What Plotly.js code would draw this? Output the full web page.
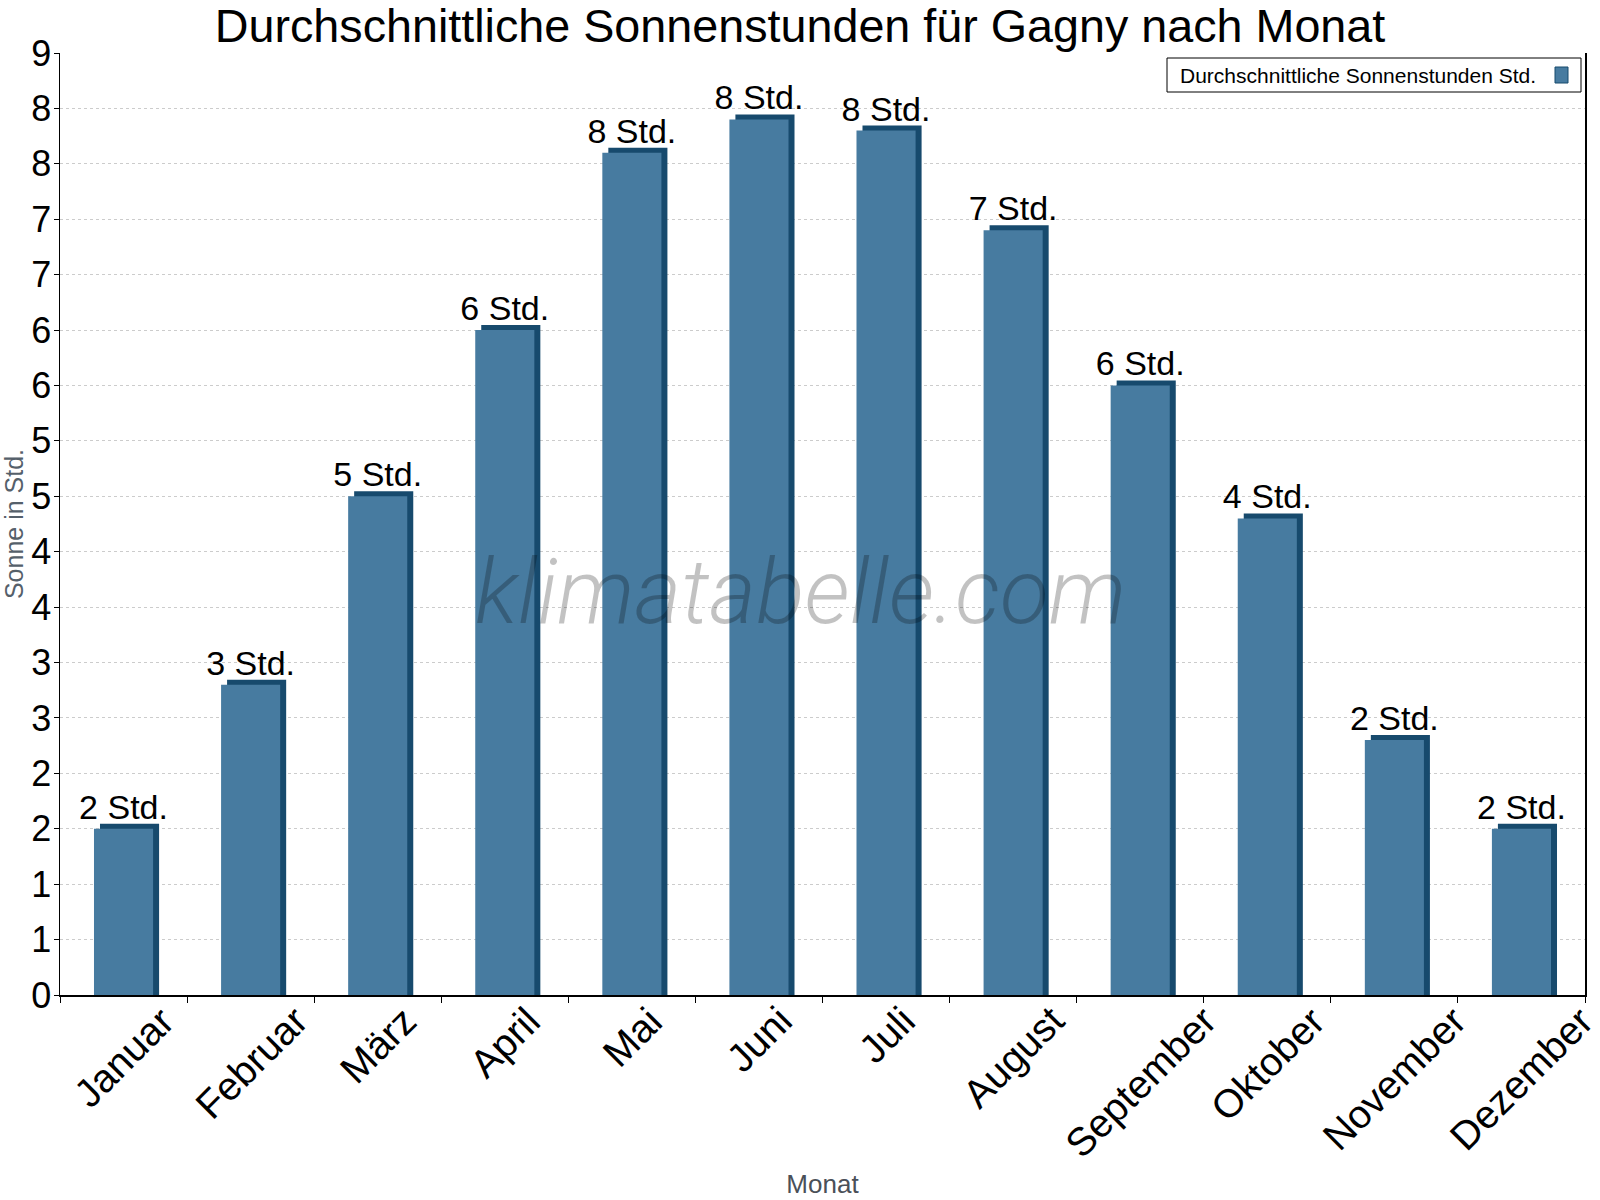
<!DOCTYPE html>
<html>
<head>
<meta charset="utf-8">
<script src="https://cdn.plot.ly/plotly-3.0.1.min.js"></script>
<style>
  html, body { margin: 0; padding: 0; background: #fff; }
  #chart { width: 1600px; height: 1200px; }
</style>
</head>
<body>
<div id="chart"></div>
<script>
// Monthly average sunshine hours for Gagny
const months = ['Januar', 'Februar', 'März', 'April', 'Mai', 'Juni',
                'Juli', 'August', 'September', 'Oktober', 'November', 'Dezember'];
const sunHours = [1.5, 2.8, 4.5, 6.0, 7.6, 7.9, 7.8, 6.9, 5.5, 4.3, 2.3, 1.5];
const seriesName = 'Durchschnittliche Sonnenstunden Std.';
const unitSuffix = ' Std.';

const yTickVals = [0, 0.5, 1, 1.5, 2, 2.5, 3, 3.5, 4, 4.5, 5, 5.5, 6, 6.5, 7, 7.5, 8, 8.5];
const yTickText = ['0', '1', '1', '2', '2', '3', '3', '4', '4', '5', '5', '6', '6', '7', '7', '8', '8', '9'];

const chartTitle = 'Durchschnittliche Sonnenstunden für Gagny nach Monat';
const xTitle = 'Monat';
const yTitle = 'Sonne in Std.';
const watermark = 'klimatabelle.com';

// ---- geometry & style ----
const W = 1600, H = 1200;
const M = { l: 60, r: 15, t: 53, b: 205 };
const plotW = W - M.l - M.r;
const plotH = H - M.t - M.b;
const yMax = 8.5;
const pxX = px => (px - M.l) / plotW;          // page px -> paper x
const pxY = py => (H - M.b - py) / plotH;      // page px -> paper y

const FRONT = '#477ba0';
const SIDE = '#174a6d';
const FONT = 'Liberation Sans, Arial, Helvetica, sans-serif';
const BAR_W = 0.465;                              // fraction of a category
const DEPTH_X = 6 / (plotW / months.length);      // 3D depth, category units
const DEPTH_Y = 5 / (plotH / yMax);               // 3D depth, value units

const labels = sunHours.map(v => Math.round(v) + unitSuffix);

// dark back block gives the bevelled side and top faces
const sideTrace = {
  type: 'bar',
  x: months,
  y: sunHours.map(v => v + DEPTH_Y),
  width: BAR_W,
  offset: -BAR_W / 2 + DEPTH_X,
  marker: { color: SIDE, line: { width: 0 } },
  showlegend: false,
  hoverinfo: 'skip'
};

const frontTrace = {
  type: 'bar',
  name: seriesName,
  x: months,
  y: sunHours,
  width: BAR_W,
  offset: -BAR_W / 2,
  marker: { color: FRONT, line: { width: 0 } },
  text: labels,
  textposition: 'outside',
  textfont: { family: FONT, size: 34, color: '#000' },
  constraintext: 'none',
  cliponaxis: false,
  showlegend: false
};

// rotated month labels centred under each category
const monthLabels = months.map(m => ({
  x: m, xref: 'x',
  y: pxY(997), yref: 'paper',
  text: m,
  textangle: -45,
  xanchor: 'center', yanchor: 'top',
  borderpad: 0,
  showarrow: false,
  font: { family: FONT, size: 39.5, color: '#000' }
}));

const annotations = monthLabels.concat([
  {
    text: watermark,
    xref: 'paper', yref: 'paper',
    x: pxX(800), y: pxY(592),
    xanchor: 'center', yanchor: 'middle',
    showarrow: false,
    font: { family: 'Roboto, Liberation Sans, sans-serif', size: 90, weight: 300,
            style: 'italic', color: 'rgba(0,0,0,0.24)' }
  },
  {
    text: seriesName,
    xref: 'paper', yref: 'paper',
    x: pxX(1178), y: pxY(75),
    xanchor: 'left', yanchor: 'middle',
    showarrow: false,
    font: { family: FONT, size: 21, color: '#000' }
  }
]);

const shapes = [
  { // legend frame
    type: 'rect', xref: 'paper', yref: 'paper',
    x0: pxX(1167), x1: pxX(1581), y0: pxY(92), y1: pxY(58),
    line: { color: '#000', width: 1 }, fillcolor: '#fff', layer: 'above'
  },
  { // legend swatch
    type: 'rect', xref: 'paper', yref: 'paper',
    x0: pxX(1555), x1: pxX(1568), y0: pxY(83), y1: pxY(67),
    line: { color: SIDE, width: 1 }, fillcolor: FRONT, layer: 'above'
  }
];

const layout = {
  width: W, height: H,
  margin: M,
  paper_bgcolor: '#fff',
  plot_bgcolor: '#fff',
  barmode: 'overlay',
  showlegend: false,
  font: { family: FONT, color: '#000' },
  title: {
    text: chartTitle,
    font: { family: FONT, size: 46.7, color: '#000' },
    x: 0.5, xanchor: 'center',
    y: 1 - 25.5 / H, yanchor: 'middle'
  },
  xaxis: {
    type: 'category',
    range: [-0.5, months.length - 0.5],
    showline: true, linecolor: '#000', linewidth: 1.5,
    ticks: 'outside', ticklen: 6, tickcolor: '#000', tickwidth: 1,
    tickson: 'boundaries',
    showticklabels: false,
    showgrid: false, zeroline: false,
    automargin: false,
    title: {
      text: xTitle,
      font: { family: FONT, size: 26, color: '#4a5058' },
      standoff: 179
    }
  },
  yaxis: {
    range: [0, yMax],
    tickvals: yTickVals, ticktext: yTickText,
    tickfont: { family: FONT, size: 36, color: '#000' },
    ticklabelstandoff: -5,
    showline: true, mirror: true, linecolor: '#000', linewidth: 1.5,
    ticks: 'outside', ticklen: 5, tickcolor: '#000', tickwidth: 1,
    showgrid: true, gridcolor: '#cccccc', gridwidth: 1, griddash: 'dot',
    zeroline: false,
    automargin: false,
    title: {
      text: yTitle,
      font: { family: FONT, size: 25, color: '#55606a' },
      standoff: 0
    }
  },
  annotations: annotations,
  shapes: shapes
};

Plotly.newPlot('chart', [sideTrace, frontTrace], layout, { staticPlot: true, displayModeBar: false });
</script>
</body>
</html>
